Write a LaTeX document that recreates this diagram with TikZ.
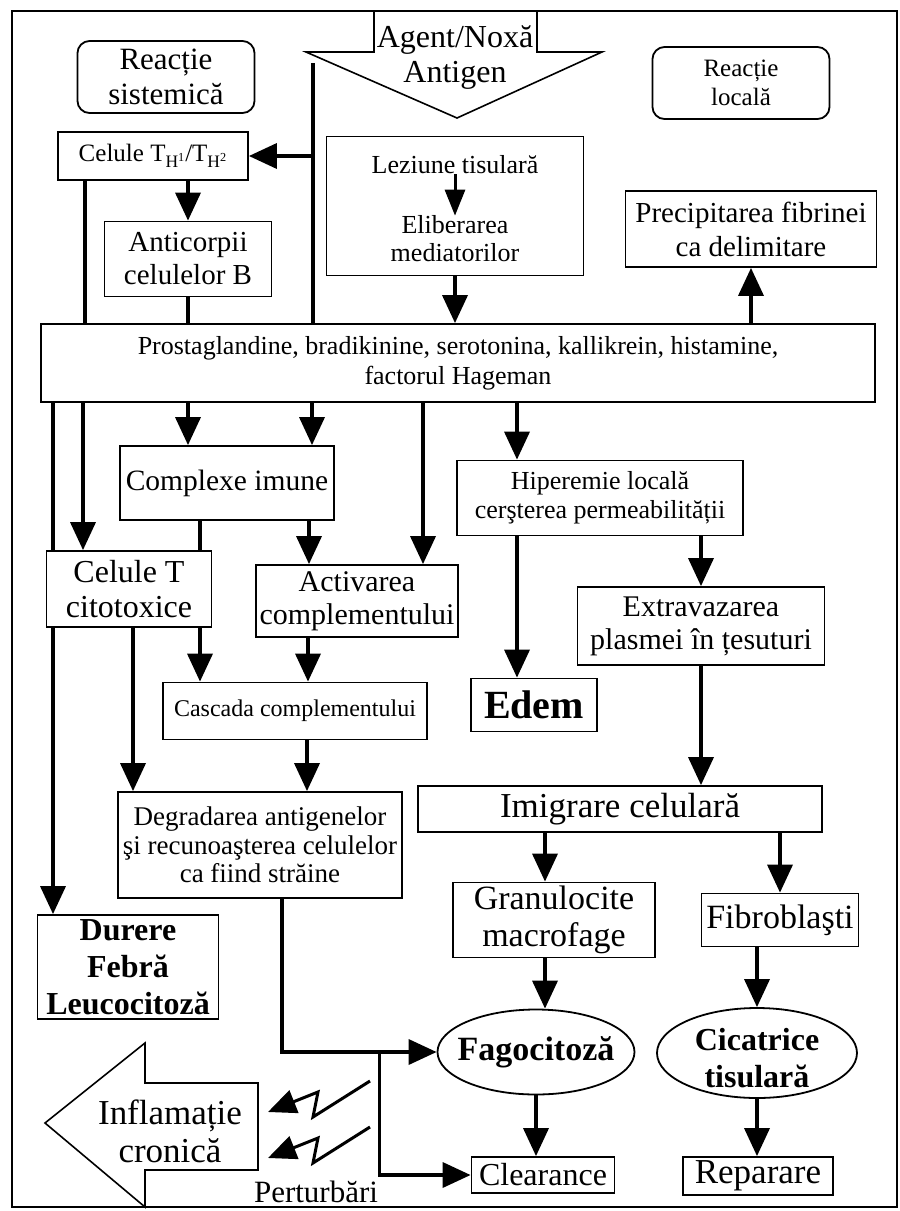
\documentclass[tikz,border=0pt]{standalone}
\usepackage{fontspec}
\setmainfont{Liberation Serif}
\usepackage{tikz}
\usetikzlibrary{arrows.meta, calc, shapes.geometric}
\newcommand{\fsz}[2]{\fontsize{#1}{#2}\selectfont}
\newcommand{\thx}[1]{T\textsubscript{H\textsuperscript{#1}}}
\tikzset{
  box/.style={draw, line width=1.8pt, fill=white, inner sep=0pt, align=center},
  rbox/.style={box, rounded corners=12pt},
  oval/.style={ellipse, draw, line width=1.8pt, fill=white, inner sep=0pt},
  txt/.style={inner sep=0pt, align=center},
  link/.style={line width=3.6pt},
  arr/.style={link, -{Triangle[length=28pt,width=25pt]}},
  small arr/.style={line width=3pt, -{Triangle[length=26pt,width=20pt]}},
  bolt/.style={line width=3pt, line join=miter, -{Triangle[length=28pt,width=24pt]}},
  frame line/.style={line width=1.4pt},
}

\begin{document}
\begin{tikzpicture}[x=1pt, y=-1pt]
  \useasboundingbox (0,0) rectangle (900,1211);
  % frame and the agent arrow
  \draw[frame line] (12,11) rectangle (897,1207);
  \draw[line width=1.6pt] (374,11) -- (374,52) -- (306,52) -- (457,118) -- (602,52) -- (537,52) -- (537,11);
  \node[txt, font=\fsz{32}{35}] (agent) at (455,58) {Agent/Noxă\\Antigen};
  \coordinate (src) at (313,63);

  % top row
  \node[rbox, minimum width=177, minimum height=72, font=\fsz{31}{35}] (sist) at (166,77) {Reacție\\sistemică};
  \node[rbox, minimum width=177, minimum height=72, font=\fsz{25}{29}] (loc) at (741,83) {Reacție\\locală};
  \node[box, minimum width=190, minimum height=48, font=\fsz{25}{29}] (th) at (153,156) {Celule \thx{1}/\thx{2}};
  \node[box, minimum width=167, minimum height=75, font=\fsz{29}{33}] (anti) at (188,259) {Anticorpii\\celulelor B};
  \node[box, minimum width=257, minimum height=139] (lez) at (455,206) {};
  \node[txt, font=\fsz{26}{28}] (lezA) at (455,165) {Leziune tisulară};
  \node[txt, font=\fsz{26}{28}] (lezB) at (455,239) {Eliberarea\\mediatorilor};
  \node[box, minimum width=251, minimum height=76, font=\fsz{29}{34}] (fibr) at (751,229) {Precipitarea fibrinei\\ca delimitare};
  \node[box, minimum width=834, minimum height=78, font=\fsz{26}{30}] (prost) at (458,363)
    {Prostaglandine, bradikinine, serotonina, kallikrein, histamine,\\factorul Hageman};

  % middle
  \node[box, minimum width=214, minimum height=74, font=\fsz{29.5}{33}] (cplx) at (227,483) {Complexe imune};
  \node[box, minimum width=286, minimum height=75, font=\fsz{26}{29}] (hip) at (600,498) {Hiperemie locală\\cerşterea permeabilității};
  \node[box, minimum width=165, minimum height=76, font=\fsz{32}{35}] (cito) at (129,589) {Celule T\\citotoxice};
  \node[box, minimum width=202, minimum height=72, font=\fsz{30}{33}] (act) at (357,601) {Activarea\\complementului};
  \node[box, minimum width=247, minimum height=78, font=\fsz{30}{33}] (extr) at (701,626) {Extravazarea\\plasmei în țesuturi};
  \node[box, minimum width=126, minimum height=53, font=\bfseries\fsz{40}{44}] (edem) at (534,705) {Edem};
  \node[box, minimum width=264, minimum height=57, font=\fsz{24}{28}] (casc) at (295,711) {Cascada complementului};
  \node[box, minimum width=404, minimum height=46, font=\fsz{35}{38}] (imig) at (620,809) {Imigrare celulară};
  \node[box, minimum width=284, minimum height=106, font=\fsz{27}{28.5}] (degr) at (260,845)
    {Degradarea antigenelor\\şi recunoaşterea celulelor\\ca fiind străine};

  % bottom
  \node[box, minimum width=202, minimum height=75, font=\fsz{34}{37}] (gran) at (554,920) {Granulocite\\macrofage};
  \node[box, minimum width=157, minimum height=53, font=\fsz{34}{37}] (fibro) at (780,920) {Fibroblaşti};
  \node[box, minimum width=181, minimum height=104, font=\bfseries\fsz{32}{37}] (dur) at (128,967) {Durere\\Febră\\Leucocitoză};
  \node[oval, minimum width=197, minimum height=85] (fago) at (536,1052) {};
  \node[txt, font=\bfseries\fsz{34}{37}] (fagoT) at (fago) {Fagocitoză};
  \node[oval, minimum width=200, minimum height=90] (cica) at (757,1053) {};
  \node[txt, font=\bfseries\fsz{32}{37}] (cicaT) at (757,1058) {Cicatrice\\tisulară};
  \node[box, minimum width=143, minimum height=36, font=\fsz{32}{35}] (clear) at (543,1175) {Clearance};
  \node[box, minimum width=150, minimum height=38, font=\fsz{35}{38}] (rep) at (758,1176) {Reparare};

  % chronic inflammation
  \draw[line width=1.6pt] (258,1083) -- (145,1083) -- (145,1043) -- (45,1123) -- (145,1207) -- (145,1170) -- (258,1170) -- cycle;
  \node[txt, font=\fsz{35}{38}] (infl) at (170,1131) {Inflamație\\cronică};
  \node[txt, font=\fsz{31}{35}] (pert) at (316,1192) {Perturbări};
  \foreach \dy in {0,46}
    \draw[bolt] (370,1081+\dy) -- (313,1117+\dy) -- (318,1092+\dy) -- (268,1112+\dy);

  % connectors above the mediators
  \draw[small arr] (lezA.south) -- (lezB.north);
  \draw[link] (src) -- (src |- prost.north);
  \draw[arr] (src |- th.east) -- (th.east);
  \draw[link] ([xshift=-68]th.south) -- ([xshift=-68]th.south |- prost.north);
  \draw[arr] (th.south -| anti.north) -- (anti.north);
  \draw[link] (anti.south) -- (anti.south |- prost.north);
  \draw[arr] (lez.south) -- (lez.south |- prost.north);
  \draw[arr] (fibr.south |- prost.north) -- (fibr.south);

  % connectors below the mediators
  \draw[link] ([xshift=-76]cito.north |- prost.south) -- ([xshift=-76]cito.north);
  \draw[arr] ([xshift=-76]cito.south) -- ([xshift=-76]cito.south |- dur.north);
  \draw[arr] ([xshift=-46]cito.north |- prost.south) -- ([xshift=-46]cito.north);
  \draw[arr] ([xshift=-39]cplx.north |- prost.south) -- ([xshift=-39]cplx.north);
  \draw[arr] ([xshift=85]cplx.north |- prost.south) -- ([xshift=85]cplx.north);
  \draw[arr] ([xshift=66]act.north |- prost.south) -- ([xshift=66]act.north);
  \draw[arr] ([xshift=-83]hip.north |- prost.south) -- ([xshift=-83]hip.north);
  \draw[arr] ([xshift=82]cplx.south) -- ([xshift=82]cplx.south |- act.north);
  \draw[link] ([xshift=-27]cplx.south) -- ([xshift=-27]cplx.south |- cito.north);
  \draw[arr] ([xshift=71]cito.south) -- ([xshift=71]cito.south |- casc.north);
  \draw[arr] ([xshift=4]cito.south) -- ([xshift=4]cito.south |- degr.north);
  \draw[arr] ([xshift=-49]act.south) -- ([xshift=-49]act.south |- casc.north);
  \draw[arr] ([xshift=12]casc.south) -- ([xshift=12]casc.south |- degr.north);
  \draw[arr] ([xshift=22]degr.south) |- (fago.west);
  \coordinate (br) at ([xshift=-57]fago.west);
  \draw[arr] (br) |- (clear.west);
  \draw[arr] ([xshift=-83]hip.south) -- ([xshift=-83]hip.south |- edem.north);
  \draw[arr] (hip.south -| extr.north) -- (extr.north);
  \draw[arr] (extr.south) -- (extr.south |- imig.north);
  \draw[arr] ([xshift=-9]gran.north |- imig.south) -- ([xshift=-9]gran.north);
  \draw[arr] (imig.south -| fibro.north) -- (fibro.north);
  \draw[arr] ([xshift=-9]gran.south) -- ([xshift=-9]gran.south |- fago.north);
  \draw[arr] (fago.south) -- (fago.south |- clear.north);
  \draw[arr] (cica.north |- fibro.south) -- (cica.north);
  \draw[arr] (cica.south) -- (cica.south |- rep.north);
\end{tikzpicture}
\end{document}
